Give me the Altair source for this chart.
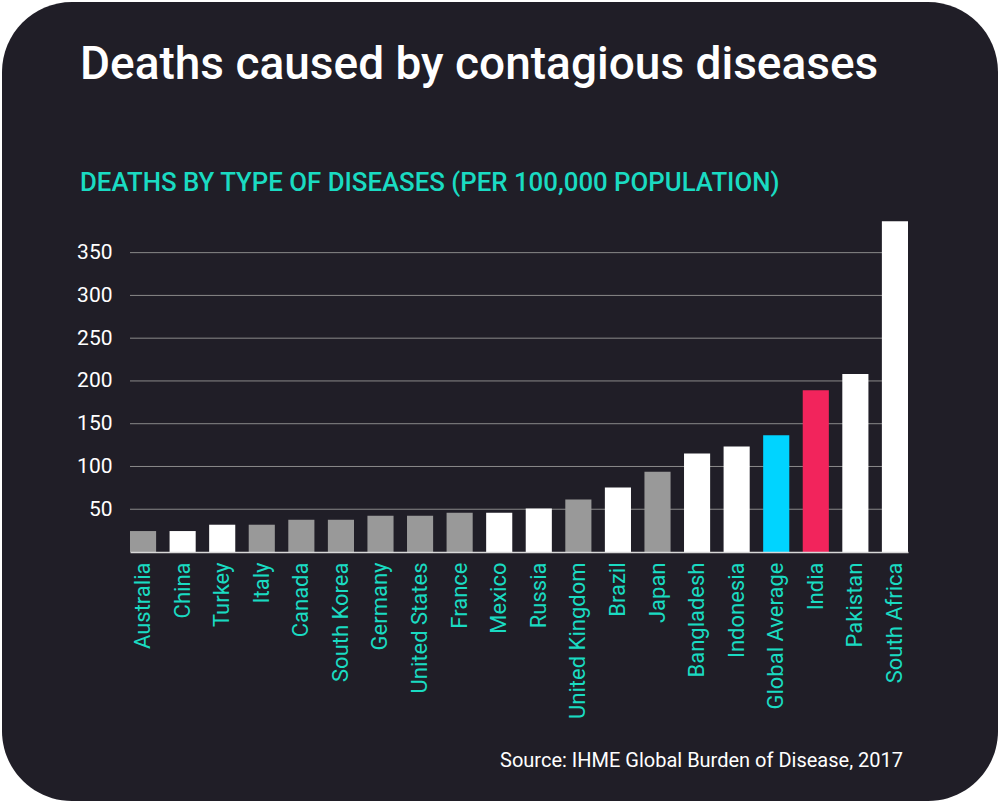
import altair as alt
import pandas as pd

countries = ["Australia", "China", "Turkey", "Italy", "Canada", "South Korea", "Germany",
             "United States", "France", "Mexico", "Russia", "United Kingdom", "Brazil", "Japan",
             "Bangladesh", "Indonesia", "Global Average", "India", "Pakistan", "South Africa"]
deaths = [24.5, 24.5, 31.9, 31.9, 37.7, 37.7, 42.4, 42.4, 45.9, 45.9, 51.0, 61.5, 75.5, 93.7,
          115.2, 123.4, 136.6, 189.1, 208.1, 386.7]
groups = ["gray", "white", "white", "gray", "gray", "gray", "gray", "gray", "gray", "white",
          "white", "gray", "white", "gray", "white", "white", "global", "india", "white", "white"]
y_ticks = [50, 100, 150, 200, 250, 300, 350]

TITLE = "Deaths caused by contagious diseases"
SUBTITLE = "DEATHS BY TYPE OF DISEASES (PER 100,000 POPULATION)"
SOURCE = "Source: IHME Global Burden of Disease, 2017"

BG = "#201e27"
TEAL = "#1adbc2"
FONT = "Roboto"

PAD_L, PAD_T, W, H = 130, 221, 778, 331

df = pd.DataFrame({"country": countries, "deaths": deaths, "group": groups})

y_scale = alt.Scale(domain=[0, 387], nice=False, zero=True)
y_axis = alt.Axis(values=y_ticks, grid=False, domain=False, ticks=False, labelColor="#ffffff",
                  labelFont=FONT, labelFontSize=21, labelPadding=18, title=None, zindex=1)

background = alt.Chart(pd.DataFrame({"a": [0]})).mark_rect(
    color=BG, cornerRadius=70
).encode(
    x=alt.value(2 - PAD_L), x2=alt.value(998 - PAD_L),
    y=alt.value(2 - PAD_T), y2=alt.value(801 - PAD_T),
)

grid = alt.Chart(pd.DataFrame({"v": y_ticks})).mark_rule(color="#8a8a8a", strokeWidth=1).encode(
    y=alt.Y("v:Q", scale=y_scale, axis=y_axis)
)

bars = alt.Chart(df).mark_bar().encode(
    x=alt.X("country:N", sort=None,
            scale=alt.Scale(paddingInner=0.34, paddingOuter=0),
            axis=alt.Axis(labelAngle=270, labelColor=TEAL, labelFont=FONT, labelFontSize=22,
                          labelPadding=10, ticks=False, domain=True, domainColor="#d8d8d8",
                          domainWidth=1.5, grid=False, title=None, labelLimit=400, zindex=1)),
    y=alt.Y("deaths:Q", scale=y_scale, axis=y_axis),
    color=alt.Color("group:N",
                    scale=alt.Scale(domain=["gray", "white", "global", "india"],
                                    range=["#999999", "#ffffff", "#00d4ff", "#f2245c"]),
                    legend=None),
)

title = alt.Chart(pd.DataFrame({"t": [TITLE]})).mark_text(
    align="left", baseline="alphabetic", font=FONT, fontSize=46, fontWeight=500, color="#ffffff"
).encode(text="t:N", x=alt.value(80 - PAD_L), y=alt.value(79 - PAD_T))

subtitle = alt.Chart(pd.DataFrame({"t": [SUBTITLE]})).mark_text(
    align="left", baseline="alphabetic", font=FONT, fontSize=25.8, fontWeight=500, color=TEAL
).encode(text="t:N", x=alt.value(80 - PAD_L), y=alt.value(191 - PAD_T))

source = alt.Chart(pd.DataFrame({"t": [SOURCE]})).mark_text(
    align="right", baseline="alphabetic", font=FONT, fontSize=20, fontWeight=400, color="#ffffff"
).encode(text="t:N", x=alt.value(903 - PAD_L), y=alt.value(767 - PAD_T))

chart = alt.layer(background, grid, bars, title, subtitle, source).properties(
    width=W, height=H,
    autosize=alt.AutoSizeParams(type="none"),
    padding={"left": PAD_L, "top": PAD_T, "right": 1000 - PAD_L - W, "bottom": 803 - PAD_T - H},
).configure(background="#ffffff").configure_view(stroke=None)

chart.save("out.html", embed_options={"renderer": "svg", "actions": False})
